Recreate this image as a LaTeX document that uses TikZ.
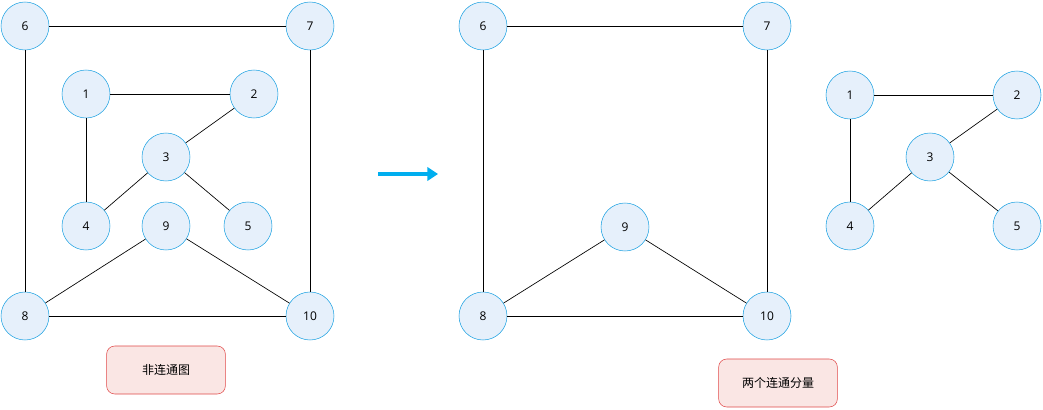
\documentclass[tikz,border=0pt]{standalone}
\usepackage{fontspec}
\setmainfont{Open Sans}
\newfontfamily\cjk{Noto Sans CJK SC}
\usetikzlibrary{arrows.meta}
\definecolor{nfill}{HTML}{E6F0FB}
\definecolor{ndraw}{HTML}{1BA1E2}
\definecolor{bfill}{HTML}{FAE6E4}
\definecolor{bdraw}{HTML}{E04848}
\definecolor{arr}{HTML}{00AEEF}
\begin{document}
\begin{tikzpicture}[x=0.75pt,y=-0.75pt,
  v/.style={circle,draw=ndraw,fill=nfill,minimum size=36pt,inner sep=0pt,font=\fontsize{9}{10}\selectfont},
  e/.style={draw=black,line width=0.5pt},
  lab/.style={rounded corners=6pt,draw=bdraw,fill=bfill,minimum width=89pt,minimum height=36pt,font=\cjk\fontsize{9}{10}\selectfont}]
\useasboundingbox (0,0) rectangle (1043,410);
% left
\node[v] (a6) at (25,26) {6};
\node[v] (a7) at (310,26) {7};
\node[v] (a1) at (86,94) {1};
\node[v] (a2) at (254,94) {2};
\node[v] (a3) at (166,157) {3};
\node[v] (a4) at (86,226) {4};
\node[v] (a9) at (166,226) {9};
\node[v] (a5) at (248,226) {5};
\node[v] (a8) at (25,316) {8};
\node[v] (a10) at (310,316) {10};
\foreach \p/\q in {a6/a7,a6/a8,a7/a10,a8/a10,a1/a2,a1/a4,a2/a3,a3/a4,a3/a5,a9/a8,a9/a10}
  \draw[e] (\p) -- (\q);
% right
\node[v] (b6) at (483,26) {6};
\node[v] (b7) at (767,26) {7};
\node[v] (b9) at (625,227) {9};
\node[v] (b8) at (483,316) {8};
\node[v] (b10) at (767,316) {10};
\node[v] (b1) at (850,95) {1};
\node[v] (b2) at (1017,95) {2};
\node[v] (b3) at (930,157) {3};
\node[v] (b4) at (850,226) {4};
\node[v] (b5) at (1017,226) {5};
\foreach \p/\q in {b6/b7,b6/b8,b7/b10,b8/b10,b1/b2,b1/b4,b2/b3,b3/b4,b3/b5,b9/b8,b9/b10}
  \draw[e] (\p) -- (\q);
% arrow
\coordinate (s) at (378,174);
\coordinate (t) at (438,174);
\draw[arr,line width=3.5pt,-{Triangle[length=8pt,width=10pt]}] (s) -- (t);
% labels
\node[lab] (l1) at (166,370) {非连通图};
\node[lab] (l2) at (778,383) {两个连通分量};
\end{tikzpicture}
\end{document}
